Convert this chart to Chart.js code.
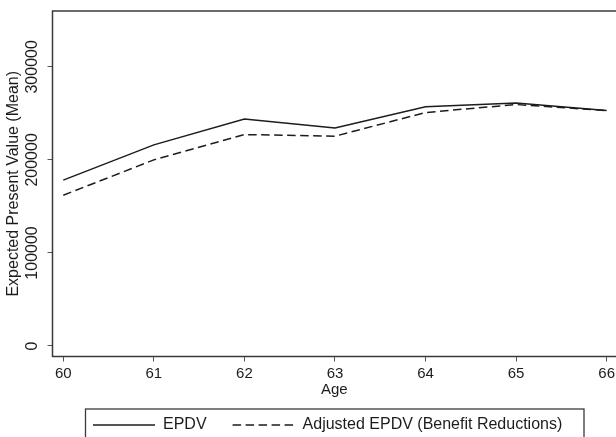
<!DOCTYPE html>
<html>
<head>
<meta charset="utf-8">
<title>Expected present value by age</title>
<script src="https://cdn.jsdelivr.net/npm/chart.js@4.4.1/dist/chart.umd.min.js"></script>
<style>
  html, body { margin: 0; padding: 0; background: #fff; overflow: hidden; }
  #wrap { width: 616px; height: 443px; }
</style>
</head>
<body>
<div id="wrap"><canvas id="chart" width="616" height="443"></canvas></div>
<script>
// values
const ages = [60, 61, 62, 63, 64, 65, 66];
const epdv = [178200, 216100, 243800, 234400, 257000, 261000, 253000];
const adjustedEpdv = [162000, 200000, 227200, 225500, 250900, 259500, 253000];
const yTicks = [0, 100000, 200000, 300000];

const ink = "#1c1c1c";
const frameColor = "#3a3a3a";
const family = "'Liberation Sans', Arial, Helvetica, sans-serif";

function points(values) {
  return ages.map((a, i) => ({ x: a, y: values[i] }));
}

// box round the plot region and round the legend (Stata look)
const framePlugin = {
  id: "frame",
  afterLayout(chart) {
    // legend sits a little left of the plot-area centre in the original
    chart.legend.left -= 6.6;
    chart.legend.right -= 6.6;
  },
  afterDatasetsDraw(chart) {
    const { ctx, chartArea: a } = chart;
    ctx.save();
    ctx.strokeStyle = frameColor;
    ctx.lineWidth = 1.5;
    ctx.beginPath();
    ctx.moveTo(chart.width + 2, a.top);
    ctx.lineTo(a.left, a.top);
    ctx.lineTo(a.left, a.bottom);
    ctx.lineTo(chart.width + 2, a.bottom);
    ctx.stroke();
    ctx.restore();
  },
  afterDraw(chart) {
    const { ctx } = chart;
    ctx.save();
    ctx.strokeStyle = frameColor;
    ctx.lineWidth = 1.3;
    ctx.strokeRect(85.5, 409, 498.5, 40);
    ctx.restore();
  },
};

new Chart(document.getElementById("chart"), {
  type: "line",
  data: {
    datasets: [
      {
        label: "EPDV",
        data: points(epdv),
        borderColor: ink,
        backgroundColor: ink,
        borderWidth: 1.5,
        pointRadius: 0,
        tension: 0,
        fill: false,
      },
      {
        label: "Adjusted EPDV (Benefit Reductions)",
        data: points(adjustedEpdv),
        borderColor: ink,
        backgroundColor: ink,
        borderWidth: 1.5,
        borderDash: [8.5, 4.5],
        pointRadius: 0,
        tension: 0,
        fill: false,
      },
    ],
  },
  plugins: [framePlugin],
  options: {
    responsive: false,
    animation: false,
    devicePixelRatio: 1,
    layout: { padding: { top: 11, right: 0, bottom: 0, left: 0 } },
    plugins: {
      tooltip: { enabled: false },
      legend: {
        position: "bottom",
        fullSize: false,
        labels: {
          usePointStyle: true,
          pointStyle: "line",
          pointStyleWidth: 62,
          padding: 26,
          color: ink,
          font: { family, size: 16 },
          generateLabels(chart) {
            return chart.data.datasets.map((ds, i) => ({
              text: ds.label,
              datasetIndex: i,
              pointStyle: "line",
              strokeStyle: ds.borderColor,
              fillStyle: ds.borderColor,
              fontColor: ink,
              lineWidth: 1.3,
              lineDash: ds.borderDash || [],
              hidden: false,
            }));
          },
        },
      },
    },
    scales: {
      x: {
        type: "linear",
        min: 59.881,
        max: 66.103,
        afterBuildTicks: (s) => { s.ticks = ages.map((v) => ({ value: v })); },
        afterFit: (s) => { s.height = 34.5; s.paddingLeft = 0; s.paddingRight = 0; },
        grid: { drawOnChartArea: false, tickLength: 5, color: "#555", lineWidth: 1 },
        border: { display: false },
        ticks: {
          autoSkip: false,
          maxRotation: 0,
          minRotation: 0,
          padding: 3.5,
          color: ink,
          font: { family, size: 15 },
          callback: (v) => String(v),
        },
        title: {
          display: true,
          text: "Age",
          color: ink,
          font: { family, size: 15 },
          padding: { top: 0, bottom: -8.3 },
        },
      },
      y: {
        min: -11300,
        max: 360000,
        afterBuildTicks: (s) => { s.ticks = yTicks.map((v) => ({ value: v })); },
        afterFit: (s) => { s.width = 52.5; s.paddingTop = 0; s.paddingBottom = 0; },
        grid: { drawOnChartArea: false, tickLength: 5, color: "#555", lineWidth: 1 },
        border: { display: false },
        ticks: {
          minRotation: 90,
          maxRotation: 90,
          crossAlign: "center",
          padding: -12,
          color: ink,
          font: { family, size: 16 },
          callback: (v) => String(v),
        },
        title: {
          display: true,
          text: "Expected Present Value (Mean)",
          color: ink,
          font: { family, size: 16 },
          padding: { top: 4, bottom: 0 },
        },
      },
    },
  },
});
</script>
</body>
</html>
